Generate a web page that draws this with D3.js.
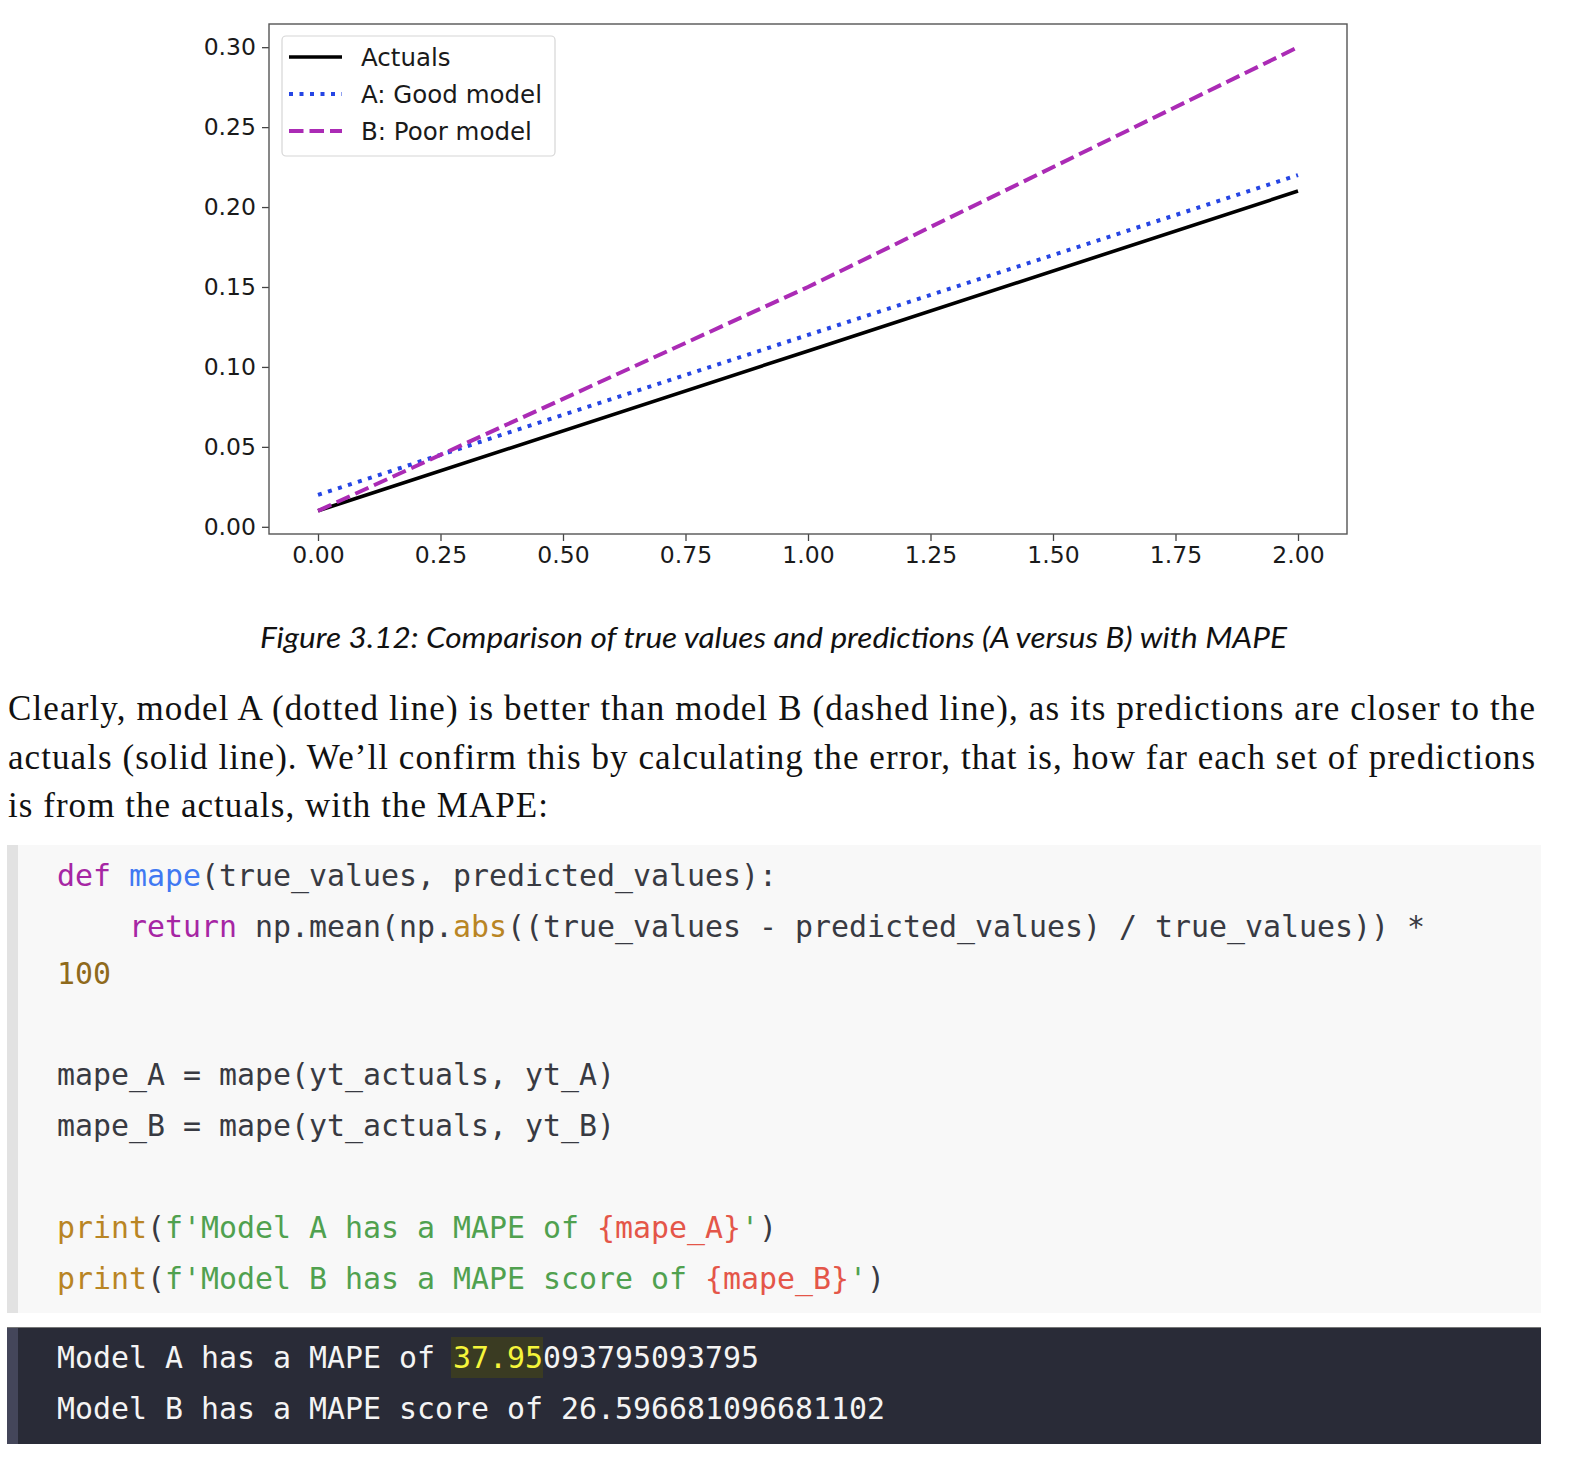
<!DOCTYPE html>
<html>
<head>
<meta charset="utf-8">
<script src="https://cdn.jsdelivr.net/npm/d3@7"></script>
<style>
  body { margin: 0; background: #fff; }
  svg { display: block; }
</style>
</head>
<body>
<svg id="page" width="1572" height="1470"></svg>
<script>
// data van de grafiek
const xValues = [0, 1, 2];
const actuals = [0.01, 0.11, 0.21];
const goodModel = [0.02, 0.12, 0.22];
const poorModel = [0.01, 0.15, 0.30];
const xTicks = [0, 0.25, 0.5, 0.75, 1, 1.25, 1.5, 1.75, 2];
const yTicks = [0, 0.05, 0.10, 0.15, 0.20, 0.25, 0.30];
const seriesNames = ['Actuals', 'A: Good model', 'B: Poor model'];

// tekst onder de grafiek
const caption = 'Figure 3.12: Comparison of true values and predictions (A versus B) with MAPE';
const paragraph = [
  'Clearly, model A (dotted line) is better than model B (dashed line), as its predictions are closer to the',
  'actuals (solid line). We\u2019ll confirm this by calculating the error, that is, how far each set of predictions',
  'is from the actuals, with the MAPE:'
];

// code regels als [tekst, soort]
const codeLines = [
  [['def', 'kw'], [' ', 'tx'], ['mape', 'fn'], ['(true_values, predicted_values):', 'tx']],
  [['    ', 'tx'], ['return', 'kw'], [' np.mean(np.', 'tx'], ['abs', 'bi'], ['((true_values - predicted_values) / true_values)) *', 'tx']],
  [['100', 'num']],
  [],
  [['mape_A = mape(yt_actuals, yt_A)', 'tx']],
  [['mape_B = mape(yt_actuals, yt_B)', 'tx']],
  [],
  [['print', 'bi'], ['(', 'tx'], ["f'Model A has a MAPE of ", 'str'], ['{mape_A}', 'sub'], ["'", 'str'], [')', 'tx']],
  [['print', 'bi'], ['(', 'tx'], ["f'Model B has a MAPE score of ", 'str'], ['{mape_B}', 'sub'], ["'", 'str'], [')', 'tx']]
];
const codeBaselines = [886, 937, 984, null, 1085, 1136, null, 1238, 1289];
const outputLines = [
  [['Model A has a MAPE of ', 'out'], ['37.95', 'hl'], ['093795093795', 'out']],
  [['Model B has a MAPE score of 26.596681096681102', 'out']]
];
const outputBaselines = [1368, 1419];

const codeColors = {
  tx: '#383a42', kw: '#a626a4', fn: '#4078f2', bi: '#b98524',
  num: '#8f6a1c', str: '#50a14f', sub: '#e45649', out: '#f4f4f4', hl: '#f5f53a'
};

const svg = d3.select('#page');

// ---------- grafiek ----------
const plot = {left: 269, right: 1347, top: 24, bottom: 534};

const x = d3.scaleLinear().domain([-0.1, 2.1]).range([plot.left, plot.right]);
const y = d3.scaleLinear().domain([-0.0045, 0.3145]).range([plot.bottom, plot.top]);

const styles = [
  {color: '#000000', dash: null, width: 3.6},
  {color: '#2545e4', dash: '4,6.5', width: 4},
  {color: '#ab2bb5', dash: '14.5,6', width: 4}
];
const series = [actuals, goodModel, poorModel];

const line = d3.line()
  .x((d, i) => x(xValues[i]))
  .y(d => y(d));

const chart = svg.append('g');

// lijnen
series.forEach((s, i) => {
  chart.append('path')
    .datum(s)
    .attr('d', line)
    .attr('fill', 'none')
    .attr('stroke', styles[i].color)
    .attr('stroke-width', styles[i].width)
    .attr('stroke-dasharray', styles[i].dash)
    .attr('stroke-linecap', 'butt');
});

// y as
const yAxis = chart.append('g')
  .attr('transform', `translate(${plot.left},0)`)
  .call(d3.axisLeft(y).tickValues(yTicks).tickFormat(d3.format('.2f')).tickSize(7).tickPadding(6));

// x as
const xAxis = chart.append('g')
  .attr('transform', `translate(0,${plot.bottom})`)
  .call(d3.axisBottom(x).tickValues(xTicks).tickFormat(d3.format('.2f')).tickSize(7).tickPadding(5));

[xAxis, yAxis].forEach(a => {
  a.select('.domain').remove();
  a.selectAll('.tick line').attr('stroke', '#444').attr('stroke-width', 1.3);
  a.selectAll('.tick text')
    .attr('fill', '#1a1a1a')
    .style('font-family', 'DejaVu Sans, sans-serif')
    .style('font-size', '23.5px');
});

// kader
chart.append('rect')
  .attr('x', plot.left)
  .attr('y', plot.top)
  .attr('width', plot.right - plot.left)
  .attr('height', plot.bottom - plot.top)
  .attr('fill', 'none')
  .attr('stroke', '#555')
  .attr('stroke-width', 1.4);

// legenda
const legend = chart.append('g');
legend.append('rect')
  .attr('x', 282).attr('y', 36)
  .attr('width', 273).attr('height', 120)
  .attr('rx', 4)
  .attr('fill', 'rgba(255,255,255,0.85)')
  .attr('stroke', '#d6d6d6')
  .attr('stroke-width', 1.2);

seriesNames.forEach((name, i) => {
  const ly = 57 + i * 37;
  legend.append('line')
    .attr('x1', 289).attr('x2', 342)
    .attr('y1', ly).attr('y2', ly)
    .attr('stroke', styles[i].color)
    .attr('stroke-width', styles[i].width)
    .attr('stroke-dasharray', styles[i].dash);
  legend.append('text')
    .attr('x', 361).attr('y', ly + 9)
    .style('font-family', 'DejaVu Sans, sans-serif')
    .style('font-size', '24.5px')
    .attr('fill', '#1a1a1a')
    .text(name);
});

// ---------- onderschrift en alinea ----------
svg.append('text')
  .attr('x', 260).attr('y', 648)
  .attr('textLength', 1027)
  .attr('lengthAdjust', 'spacingAndGlyphs')
  .style('font-family', 'Lato, sans-serif')
  .style('font-style', 'italic')
  .style('font-size', '29px')
  .attr('fill', '#111')
  .text(caption);

const paraWidths = [1527, 1527, 540];
paragraph.forEach((t, i) => {
  svg.append('text')
    .attr('x', 8).attr('y', 720 + i * 48.5)
    .attr('textLength', paraWidths[i])
    .attr('lengthAdjust', 'spacing')
    .style('font-family', 'Liberation Serif, serif')
    .style('font-size', '35px')
    .attr('fill', '#111')
    .text(t);
});

// ---------- code blok ----------
svg.append('rect').attr('x', 7).attr('y', 845).attr('width', 1534).attr('height', 468).attr('fill', '#f8f8f8');
svg.append('rect').attr('x', 7).attr('y', 845).attr('width', 11).attr('height', 468).attr('fill', '#e2e2e2');

const charW = 18;
const codeX = 57;

function drawLine(tokens, baseline) {
  let col = 0;
  tokens.forEach(([txt, kind]) => {
    if (kind === 'hl') {
      svg.append('rect')
        .attr('x', codeX + col * charW - 2).attr('y', baseline - 31)
        .attr('width', txt.length * charW + 2).attr('height', 41)
        .attr('fill', '#3a3b22');
    }
    if (txt.trim() !== '') {
      svg.append('text')
        .attr('x', codeX + col * charW)
        .attr('y', baseline)
        .attr('textLength', txt.length * charW)
        .attr('lengthAdjust', 'spacingAndGlyphs')
        .style('font-family', 'DejaVu Sans Mono, monospace')
        .style('font-size', '30px')
        .style('white-space', 'pre')
        .attr('xml:space', 'preserve')
        .attr('fill', codeColors[kind])
        .text(txt);
    }
    col += txt.length;
  });
}

codeLines.forEach((tokens, i) => {
  if (codeBaselines[i] !== null) drawLine(tokens, codeBaselines[i]);
});

// ---------- uitvoer blok ----------
svg.append('rect').attr('x', 7).attr('y', 1327).attr('width', 1534).attr('height', 117).attr('fill', '#292b37');
svg.append('rect').attr('x', 7).attr('y', 1327).attr('width', 11).attr('height', 117).attr('fill', '#44465a');
svg.append('line').attr('x1', 7).attr('x2', 1541).attr('y1', 1327.5).attr('y2', 1327.5).attr('stroke', '#777').attr('stroke-width', 1);

outputLines.forEach((tokens, i) => drawLine(tokens, outputBaselines[i]));
</script>
</body>
</html>
